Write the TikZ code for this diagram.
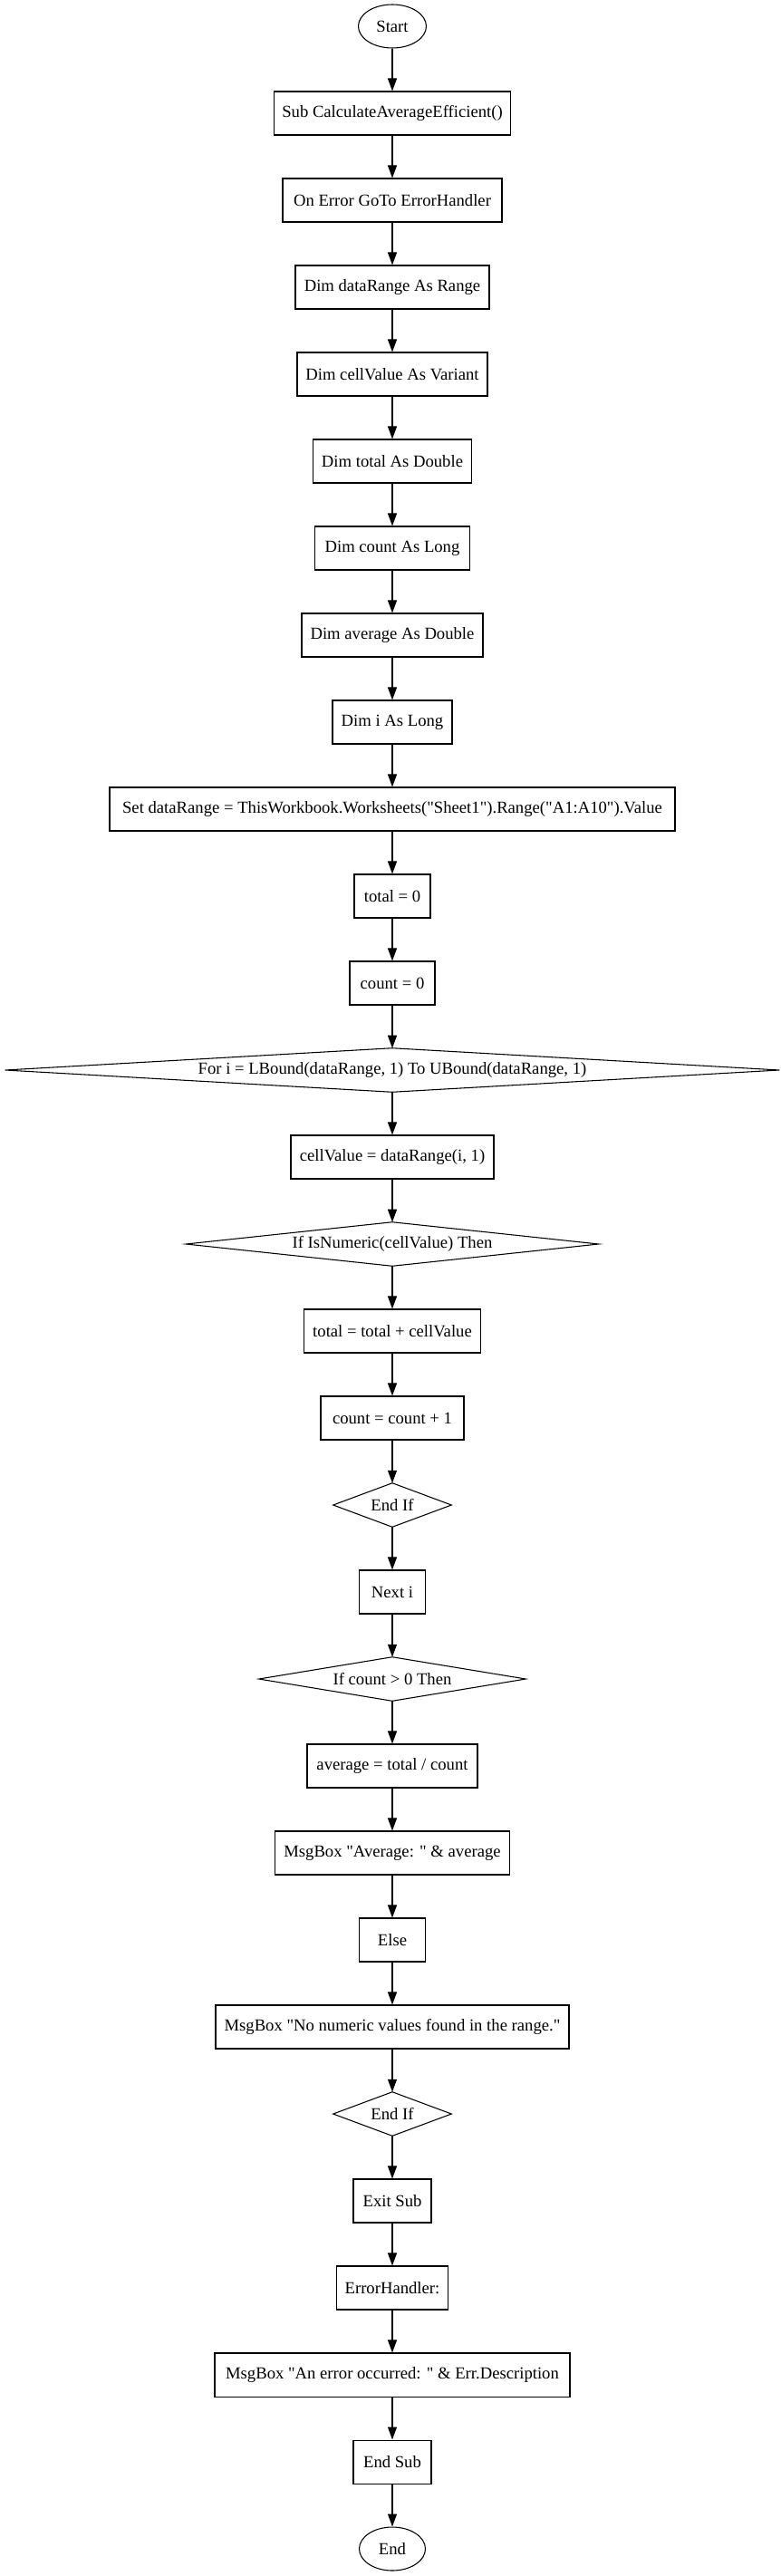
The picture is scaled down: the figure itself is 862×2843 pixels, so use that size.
\documentclass[tikz,border=0pt]{standalone}
\usepackage{fontspec}
\setmainfont{Liberation Serif}[Ligatures=TeXOff]
\usetikzlibrary{arrows.meta,shapes.geometric}
\begin{document}
\begin{tikzpicture}[x=0.75pt,y=-0.75pt,
  lbl/.style={inner sep=0pt, minimum height=36pt, font=\fontsize{14pt}{16pt}\selectfont},
  pbox/.style={lbl, draw, line width=0.8pt, rectangle, minimum width=#1*0.75pt},
  pterm/.style={lbl, draw, line width=0.8pt, ellipse, minimum width=#1*0.75pt},
  pdia/.style={lbl, rectangle, minimum width=#1*0.75pt},
  dline/.style={line width=0.8pt, line join=miter},
  flow/.style={-{Triangle[length=10.5pt,width=7.5pt]}, line width=0.8pt}]
\useasboundingbox (0,0) rectangle (862,2843);
\node[pterm=75]  (n1)  at (433,29)   {Start};
\node[pbox=261]  (n2)  at (433,125)  {Sub CalculateAverageEfficient()};
\node[pbox=242]  (n3)  at (433,221)  {On Error GoTo ErrorHandler};
\node[pbox=214]  (n4)  at (433,317)  {Dim dataRange As Range};
\node[pbox=210]  (n5)  at (433,413)  {Dim cellValue As Variant};
\node[pbox=175]  (n6)  at (433,509)  {Dim total As Double};
\node[pbox=171]  (n7)  at (433,605)  {Dim count As Long};
\node[pbox=200]  (n8)  at (433,701)  {Dim average As Double};
\node[pbox=132]  (n9)  at (433,797)  {Dim i As Long};
\node[pbox=624]  (n10) at (433,893)  {Set dataRange = ThisWorkbook.Worksheets("Sheet1").Range("A1:A10").Value};
\node[pbox=84]   (n11) at (433,989)  {total = 0};
\node[pbox=94]   (n12) at (433,1085) {count = 0};
\node[pdia=854]  (n13) at (433,1181) {For i = LBound(dataRange, 1) To UBound(dataRange, 1)};
\node[pbox=224]  (n14) at (433,1277) {cellValue = dataRange(i, 1)};
\node[pdia=455]  (n15) at (433,1373) {If IsNumeric(cellValue) Then};
\node[pbox=195]  (n16) at (433,1469) {total = total + cellValue};
\node[pbox=158]  (n17) at (433,1565) {count = count + 1};
\node[pdia=130]  (n18) at (433,1661) {End If};
\node[pbox=73]   (n19) at (433,1757) {Next i};
\node[pdia=294]  (n20) at (433,1853) {If count > 0 Then};
\node[pbox=188]  (n21) at (433,1949) {average = total / count};
\node[pbox=259]  (n22) at (433,2045) {MsgBox "Average: " \& average};
\node[pbox=73]   (n23) at (433,2141) {Else};
\node[pbox=390]  (n24) at (433,2237) {MsgBox "No numeric values found in the range."};
\node[pdia=130]  (n25) at (433,2333) {End If};
\node[pbox=86]   (n26) at (433,2429) {Exit Sub};
\node[pbox=123]  (n27) at (433,2525) {ErrorHandler:};
\node[pbox=392]  (n28) at (433,2621) {MsgBox "An error occurred: " \& Err.Description};
\node[pbox=86]   (n29) at (433,2717) {End Sub};
\node[pterm=73]  (n30) at (433,2813) {End};
\foreach \d in {n13,n15,n18,n20,n25}
  \draw[dline] (\d.west) -- (\d.north) -- (\d.east) -- (\d.south) -- cycle;
\foreach \a/\b in {n1/n2,n2/n3,n3/n4,n4/n5,n5/n6,n6/n7,n7/n8,n8/n9,n9/n10,n10/n11,
  n11/n12,n12/n13,n13/n14,n14/n15,n15/n16,n16/n17,n17/n18,n18/n19,n19/n20,n20/n21,
  n21/n22,n22/n23,n23/n24,n24/n25,n25/n26,n26/n27,n27/n28,n28/n29,n29/n30}
  \draw[flow] (\a) -- (\b);
\end{tikzpicture}
\end{document}
